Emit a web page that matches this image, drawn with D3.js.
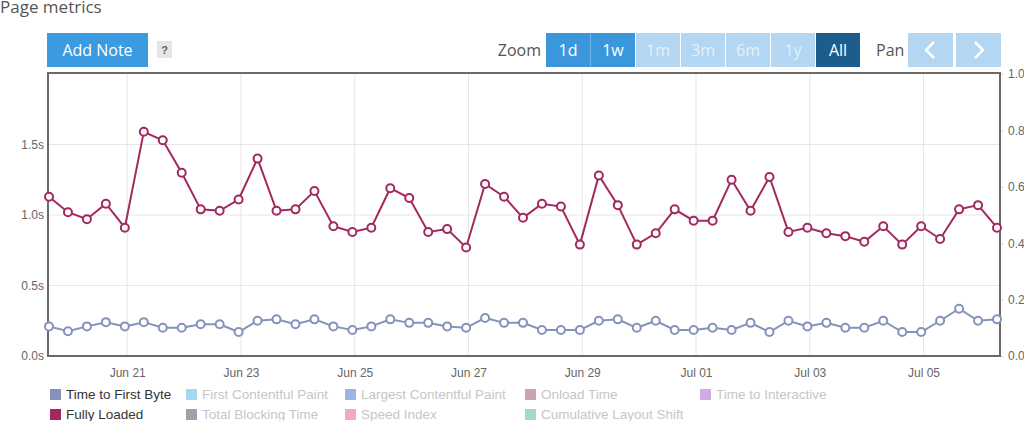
<!DOCTYPE html>
<html>
<head>
<meta charset="utf-8">
<script src="https://d3js.org/d3.v7.min.js"></script>
<style>
  body { margin: 0; background: #fff; }
  svg { display: block; }
</style>
</head>
<body>
<div id="chart"></div>
<script>

// one sample every 8 hours, starting Jun 19 15:00
var startTime = new Date(2021, 5, 19, 15, 0);
var stepHours = 8;

var fullyLoaded = [1.13, 1.02, 0.97, 1.08, 0.91, 1.59, 1.53, 1.30, 1.04, 1.03,
  1.11, 1.40, 1.03, 1.04, 1.17, 0.92, 0.88, 0.91, 1.19, 1.12,
  0.88, 0.90, 0.77, 1.22, 1.13, 0.98, 1.08, 1.06, 0.79, 1.28,
  1.07, 0.79, 0.87, 1.04, 0.96, 0.96, 1.25, 1.03, 1.27, 0.88,
  0.91, 0.87, 0.85, 0.81, 0.92, 0.79, 0.92, 0.83, 1.04, 1.07, 0.91];

var timeToFirstByte = [0.21, 0.175, 0.21, 0.24, 0.21, 0.24, 0.20, 0.20, 0.225, 0.225,
  0.17, 0.25, 0.26, 0.225, 0.26, 0.21, 0.185, 0.21, 0.26, 0.235,
  0.235, 0.21, 0.20, 0.27, 0.235, 0.235, 0.185, 0.185, 0.185, 0.25,
  0.26, 0.20, 0.25, 0.185, 0.185, 0.20, 0.185, 0.235, 0.17, 0.25,
  0.21, 0.235, 0.20, 0.20, 0.25, 0.17, 0.17, 0.25, 0.335, 0.25, 0.26];

var leftTicks = [0, 0.5, 1.0, 1.5];
var rightTicks = [0, 0.2, 0.4, 0.6, 0.8, 1.0];

var zoomButtons = ["1d", "1w", "1m", "3m", "6m", "1y", "All"];
var zoomState = ["on", "on", "off", "off", "off", "off", "sel"];

var legendNames = ["Time to First Byte", "First Contentful Paint", "Largest Contentful Paint", "Onload Time", "Time to Interactive",
  "Fully Loaded", "Total Blocking Time", "Speed Index", "Cumulative Layout Shift"];
var legendColors = ["#8592bb", "#a6d8f4", "#9fb4e6", "#c9a3b2", "#d3a9e3",
  "#a3285f", "#a99bad", "#f2aac3", "#a3dbc4"];
var legendActive = [true, false, false, false, false, true, false, false, false];

var times = fullyLoaded.map(function(d, i) { return d3.timeHour.offset(startTime, i * stepHours); });

var W = 1024, H = 421;
var plot = {left: 48, right: 1000, top: 73, bottom: 356};

var svg = d3.select("#chart").append("svg")
  .attr("width", W).attr("height", H)
  .style("font-family", "'Liberation Sans', Arial, sans-serif");

var x = d3.scaleTime()
  .domain([times[0], times[times.length - 1]])
  .range([49, 997]);

var y = d3.scaleLinear().domain([0, 2]).range([plot.bottom, 74]);
var y2 = d3.scaleLinear().domain([0, 1]).range([plot.bottom, 74]);

// header (the reference crops it at the top edge too)
svg.append("text")
  .attr("x", 0).attr("y", 13)
  .style("font-family", "'Open Sans', sans-serif")
  .style("font-size", "17px")
  .style("fill", "#555")
  .text("Page metrics");

svg.append("rect")
  .attr("x", 47).attr("y", 33).attr("width", 101).attr("height", 34)
  .attr("fill", "#3a9be0");
svg.append("text")
  .attr("x", 97.5).attr("y", 55.5)
  .attr("text-anchor", "middle")
  .style("font-family", "'Open Sans', sans-serif")
  .style("font-size", "16px")
  .style("fill", "#fff")
  .text("Add Note");

svg.append("rect")
  .attr("x", 157).attr("y", 41).attr("width", 15).attr("height", 17)
  .attr("fill", "#e6e6e6");
svg.append("text")
  .attr("x", 164.5).attr("y", 54)
  .attr("text-anchor", "middle")
  .style("font-size", "11px").style("font-weight", "bold")
  .style("fill", "#666")
  .text("?");

// zoom buttons
svg.append("text")
  .attr("x", 541).attr("y", 56)
  .attr("text-anchor", "end")
  .style("font-family", "'Open Sans', sans-serif")
  .style("font-size", "16px")
  .style("fill", "#555")
  .text("Zoom");

var btnFill = {on: "#3a97dc", off: "#b3d7f2", sel: "#1c5d8e"};
var btnText = {on: "#fff", off: "#e2f0fb", sel: "#fff"};

var zb = svg.append("g").selectAll("g").data(zoomButtons).join("g")
  .attr("transform", function(d, i) { return "translate(" + (546 + i * 45) + ",33)"; });
zb.append("rect")
  .attr("width", 44).attr("height", 34)
  .attr("fill", function(d, i) { return btnFill[zoomState[i]]; });
zb.append("text")
  .attr("x", 22).attr("y", 23)
  .attr("text-anchor", "middle")
  .style("font-family", "'Open Sans', sans-serif")
  .style("font-size", "16px")
  .style("fill", function(d, i) { return btnText[zoomState[i]]; })
  .text(function(d) { return d; });
svg.append("rect").attr("x", 590).attr("y", 33).attr("width", 1).attr("height", 34).attr("fill", "#6db5e8");

svg.append("text")
  .attr("x", 876).attr("y", 56)
  .style("font-family", "'Open Sans', sans-serif")
  .style("font-size", "16px")
  .style("fill", "#555")
  .text("Pan");

var pan = svg.append("g").selectAll("g").data(["<", ">"]).join("g")
  .attr("transform", function(d, i) { return "translate(" + (908 + i * 48) + ",33)"; });
pan.append("rect")
  .attr("width", 45).attr("height", 34)
  .attr("fill", "#b3d7f2");
pan.append("path")
  .attr("d", function(d) { return d == "<" ? "M26,9 L18,17 L26,25" : "M19,9 L27,17 L19,25"; })
  .attr("fill", "none")
  .attr("stroke", "#fff")
  .attr("stroke-width", 2.5);

// grid
svg.append("g").selectAll("line").data(leftTicks.slice(1)).join("line")
  .attr("x1", plot.left).attr("x2", plot.right)
  .attr("y1", function(d) { return y(d); }).attr("y2", function(d) { return y(d); })
  .attr("stroke", "#e6e6e6");

var xTicks = x.ticks(d3.timeDay.every(2));
svg.append("g").selectAll("line").data(xTicks).join("line")
  .attr("x1", function(d) { return x(d); }).attr("x2", function(d) { return x(d); })
  .attr("y1", plot.top).attr("y2", plot.bottom)
  .attr("stroke", "#e6e6e6");

// axes
var xAxis = svg.append("g")
  .attr("transform", "translate(0," + plot.bottom + ")")
  .call(d3.axisBottom(x).tickValues(xTicks).tickFormat(d3.timeFormat("%b %d")).tickSize(0).tickPadding(12));
xAxis.select(".domain").remove();
xAxis.selectAll("text").style("font-size", "12px").style("fill", "#666").style("font-family", "'Liberation Sans', Arial, sans-serif");

var yAxis = svg.append("g")
  .attr("transform", "translate(" + (plot.left - 4) + ",0)")
  .call(d3.axisLeft(y).tickValues(leftTicks).tickFormat(function(d) { return d3.format(".1f")(d) + "s"; }).tickSize(0).tickPadding(0));
yAxis.select(".domain").remove();
yAxis.selectAll("text").style("font-size", "12px").style("fill", "#666").style("font-family", "'Liberation Sans', Arial, sans-serif");

var yAxis2 = svg.append("g")
  .attr("transform", "translate(" + plot.right + ",0)")
  .call(d3.axisRight(y2).tickValues(rightTicks).tickFormat(d3.format(".1f")).tickSize(4).tickPadding(4));
yAxis2.select(".domain").remove();
yAxis2.selectAll("line").attr("stroke", "#ddd");
yAxis2.selectAll("text").style("font-size", "12px").style("fill", "#666").style("font-family", "'Liberation Sans', Arial, sans-serif");

// frame
svg.append("rect")
  .attr("x", plot.left).attr("y", plot.top)
  .attr("width", plot.right - plot.left).attr("height", plot.bottom - plot.top)
  .attr("fill", "none")
  .attr("stroke", "#6a6a6a")
  .attr("stroke-width", 2);

// series
var series = [
  {values: timeToFirstByte, color: "#8592bb"},
  {values: fullyLoaded, color: "#a3285f"}
];

var line = d3.line()
  .x(function(d, i) { return x(times[i]); })
  .y(function(d) { return y(d); });

series.forEach(function(s) {
  svg.append("path")
    .datum(s.values)
    .attr("fill", "none")
    .attr("stroke", s.color)
    .attr("stroke-width", 2)
    .attr("d", line);
  svg.append("g").selectAll("circle").data(s.values).join("circle")
    .attr("cx", function(d, i) { return x(times[i]); })
    .attr("cy", function(d) { return y(d); })
    .attr("r", 4)
    .attr("fill", "#fff")
    .attr("stroke", s.color)
    .attr("stroke-width", 2);
});

// legend
var legendX = [50, 186, 345, 525, 700];
var legend = svg.append("g").selectAll("g").data(legendNames).join("g")
  .attr("transform", function(d, i) {
    var col = i < 5 ? i : i - 5;
    var row = i < 5 ? 0 : 1;
    return "translate(" + legendX[col] + "," + (394 + row * 20) + ")";
  });
legend.append("rect")
  .attr("x", 0).attr("y", -5).attr("width", 11).attr("height", 11)
  .attr("fill", function(d, i) { return legendColors[i]; });
legend.append("text")
  .attr("x", 16).attr("y", 5)
  .style("font-size", "13.5px")
  .style("fill", function(d, i) { return legendActive[i] ? "#333" : "#c6c6c6"; })
  .text(function(d) { return d; });

</script>
</body>
</html>
